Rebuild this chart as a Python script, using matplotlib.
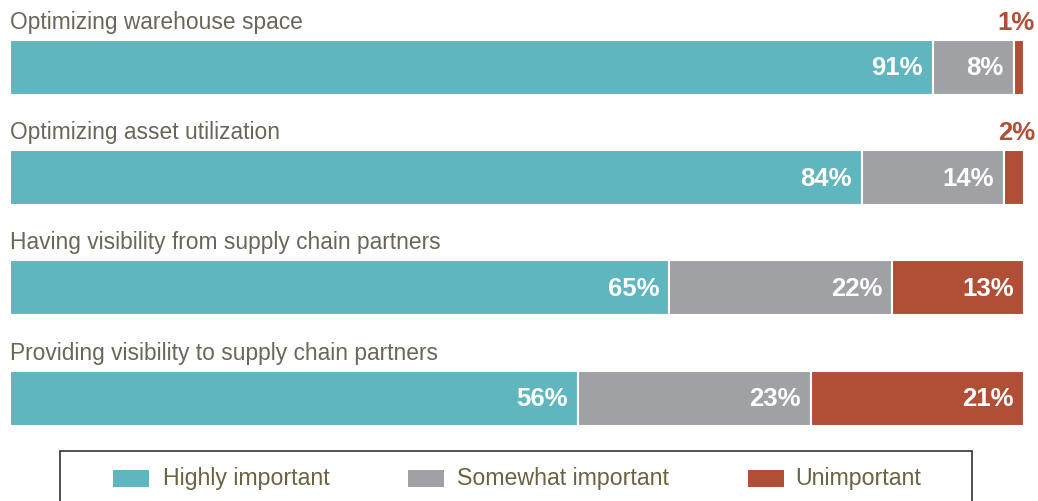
import matplotlib.pyplot as plt
from matplotlib.patches import Rectangle

categories = [
    "Optimizing warehouse space",
    "Optimizing asset utilization",
    "Having visibility from supply chain partners",
    "Providing visibility to supply chain partners",
]
highly = [91, 84, 65, 56]
somewhat = [8, 14, 22, 23]
unimportant = [1, 2, 13, 21]
series_names = ["Highly important", "Somewhat important", "Unimportant"]

TEAL = "#5fb6bf"
GRAY = "#a0a1a5"
RED = "#b04e36"
LABEL_COLOR = "#6b6659"
LEGEND_COLOR = "#6a6342"
colors = [TEAL, GRAY, RED]

W, H = 1038, 501
fig = plt.figure(figsize=(W / 100, H / 100), dpi=100)

# axes spans the full bar width; y in pixel units from the top
ax = fig.add_axes([10 / W, 0, 1014 / W, 1])
ax.set_xlim(0, 100)
ax.set_ylim(H, 0)
ax.axis("off")

bar_centers = [67, 177.5, 287.5, 398]
bar_h = 55
px = 100 / 1014  # one pixel in data units

for i, cat in enumerate(categories):
    y = bar_centers[i]
    vals = [highly[i], somewhat[i], unimportant[i]]
    left = 0
    for v, c in zip(vals, colors):
        ax.barh(y, v, left=left, height=bar_h, color=c,
                edgecolor="white", linewidth=1.5)
        if v >= 5:
            ax.text(left + v - 10 * px, y + 1, f"{v}%", ha="right", va="center",
                    color="white", fontsize=18.5, fontweight="bold",
                    family="Liberation Sans")
        else:
            ax.text(100 + 11 * px, y - bar_h / 2 - 17, f"{v}%", ha="right",
                    va="center", color=RED, fontsize=18.5, fontweight="bold",
                    family="Liberation Sans")
        left += v
    ax.text(0, y - bar_h / 2 - 17, cat, ha="left", va="center",
            color=LABEL_COLOR, fontsize=16.4, family="Liberation Sans")

# legend box
fig.patches.append(Rectangle((60 / W, -0.05), 912 / W, 0.05 + 50 / H,
                             transform=fig.transFigure, facecolor="white",
                             edgecolor="#333333", linewidth=1.2))
sw_x = [113, 408, 748]
tx_x = [163, 457, 795]
for name, c, sx, tx in zip(series_names, colors, sw_x, tx_x):
    fig.patches.append(Rectangle((sx / W, 1 - 487 / H), 36 / W, 17 / H,
                                 transform=fig.transFigure, facecolor=c,
                                 edgecolor="none"))
    fig.text(tx / W, 1 - 479 / H, name, ha="left", va="center",
             color=LEGEND_COLOR, fontsize=16.7, family="Liberation Sans")

fig.savefig("out.png", dpi=100)
